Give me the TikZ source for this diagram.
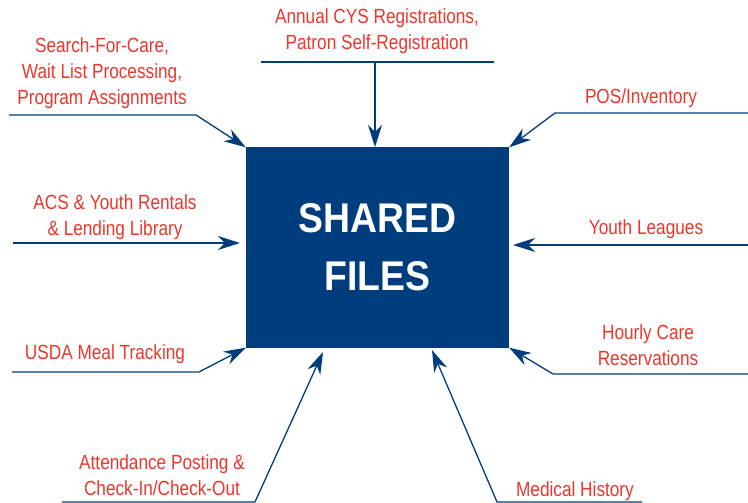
\documentclass[tikz,border=0pt]{standalone}
\usepackage{fontspec}
\setmainfont{Liberation Sans}[FakeStretch=0.84]
\newfontfamily\boxfont{Liberation Sans}[FakeStretch=0.9]
\usetikzlibrary{arrows.meta}
\definecolor{navy}{RGB}{0,61,124}
\definecolor{lblred}{RGB}{234,55,45}
\tikzset{
  lbl/.style={text=lblred, font=\fontsize{20.5}{26}\selectfont, align=center, inner sep=0pt},
  conn/.style={draw=navy, line width=1.3pt, line join=miter},
  arr/.style={conn, -{Stealth[length=22pt,width=14pt,inset=7pt]}},
  hub/.style={fill=navy, text=white, minimum width=263pt, minimum height=200pt, inner sep=0pt,
    font=\boxfont\bfseries\fontsize{41.5}{58}\selectfont, align=center}
}
\begin{document}
\begin{tikzpicture}[x=1pt,y=-1pt]
\useasboundingbox (0,0) rectangle (748,503);
\node[hub] (files) at (377.5,247.5) {SHARED\\FILES};

% labels
\node[lbl] (search) at (102,73) {Search-For-Care,\\Wait List Processing,\\Program Assignments};
\node[lbl] (annual) at (377,31) {Annual CYS Registrations,\\Patron Self-Registration};
\node[lbl] (pos) at (641,98) {POS/Inventory};
\node[lbl] (acs) at (115,217) {ACS \& Youth Rentals\\\& Lending Library};
\node[lbl] (youth) at (646,229) {Youth Leagues};
\node[lbl] (usda) at (105,354) {USDA Meal Tracking};
\node[lbl] (hourly) at (648,345) {Hourly Care\\Reservations};
\node[lbl] (attend) at (162,475) {Attendance Posting \&\\Check-In/Check-Out};
\node[lbl] (medical) at (575,491) {Medical History};

% connector points
\coordinate (s1) at (9,115);   \coordinate (s2) at (196,115);
\coordinate (a1) at (261,62);  \coordinate (a2) at (494,62); \coordinate (a3) at (375,62);
\coordinate (aT) at (375,147);
\coordinate (p1) at (748,113); \coordinate (p2) at (555,113);
\coordinate (c1) at (13,243);  \coordinate (cT) at (240,243);
\coordinate (y1) at (748,245); \coordinate (yT) at (513,245);
\coordinate (u1) at (12,372);  \coordinate (u2) at (199,372);
\coordinate (h1) at (748,374); \coordinate (h2) at (553,374);
\coordinate (t1) at (62,502);  \coordinate (t2) at (255,502); \coordinate (tT) at (323,352);
\coordinate (m1) at (642,502); \coordinate (m2) at (497,502); \coordinate (mT) at (432,350);

% connectors
\draw[arr] (s1) -- (s2) -- (files.north west);
\draw[conn] (a1) -- (a2);
\draw[arr] (a3) -- (aT);
\draw[arr] (p1) -- (p2) -- (files.north east);
\draw[arr] (c1) -- (cT);
\draw[arr] (y1) -- (yT);
\draw[arr] (u1) -- (u2) -- (files.south west);
\draw[arr] (h1) -- (h2) -- (files.south east);
\draw[arr] (t1) -- (t2) -- (tT);
\draw[arr] (m1) -- (m2) -- (mT);
\end{tikzpicture}
\end{document}
